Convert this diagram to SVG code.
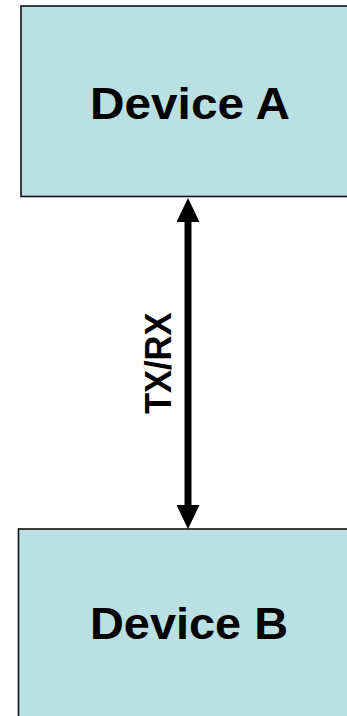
<svg xmlns="http://www.w3.org/2000/svg" width="347" height="716" viewBox="0 0 347 716">
<style>
.box{fill:#BAE0E3;stroke:#111;stroke-width:1.6}
.lbl{font-family:"Liberation Sans",Arial,sans-serif;font-weight:bold;fill:#000}
.conn{stroke:#000;stroke-width:7;fill:none}
</style>
<defs>
<marker id="ah" markerUnits="userSpaceOnUse" markerWidth="24" markerHeight="23" viewBox="0 0 24 23" refX="0" refY="11.5" orient="auto-start-reverse">
<path d="M0,0 L24,11.5 L0,23 Z" fill="#000"/>
</marker>
</defs>
<rect width="347" height="716" fill="#fff"/>
<g id="deviceA">
<rect class="box" x="21" y="6" width="340" height="190.5"/>
<text class="lbl" x="90" y="119.3" font-size="44.7" textLength="200" lengthAdjust="spacingAndGlyphs">Device A</text>
</g>
<g id="deviceB">
<rect class="box" x="18.5" y="529" width="340" height="200"/>
<text class="lbl" x="90" y="639.3" font-size="44.7" textLength="198" lengthAdjust="spacingAndGlyphs">Device B</text>
</g>
<g id="connectors">
<line class="conn" x1="188" y1="222" x2="188" y2="505" marker-start="url(#ah)" marker-end="url(#ah)"/>
<text class="lbl" transform="translate(171,414) rotate(-90)" x="0" y="0" font-size="37.3" textLength="101.4" lengthAdjust="spacingAndGlyphs">TX/RX</text>
</g>
</svg>
